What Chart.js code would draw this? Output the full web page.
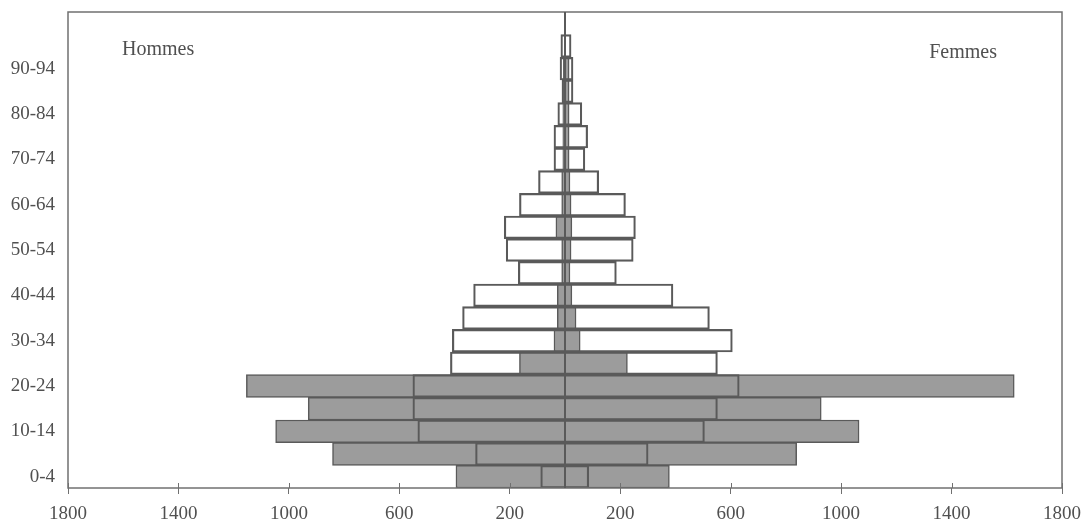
<!DOCTYPE html>
<html>
<head>
<meta charset="utf-8">
<script src="https://cdn.jsdelivr.net/npm/chart.js@4.4.0/dist/chart.umd.min.js"></script>
<style>
    body { margin: 0; background: #ffffff; }
    #wrap { width: 1085px; height: 529px; position: relative; }
</style>
</head>
<body>
<div id="wrap"><canvas id="pyramid"></canvas></div>
<script>
// age groups, bottom (0-4) to top
const ageGroups = ['0-4', '5-9', '10-14', '15-19', '20-24', '25-29', '30-34', '35-39', '40-44', '45-49',
    '50-54', '55-59', '60-64', '65-69', '70-74', '75-79', '80-84', '85-89', '90-94', '95-99', '100+'];
const ageTickLabels = ['0-4', '', '10-14', '', '20-24', '', '30-34', '', '40-44', '', '50-54', '',
    '60-64', '', '70-74', '', '80-84', '', '90-94', '', ''];
const xTickValues = [-1800, -1400, -1000, -600, -200, 200, 600, 1000, 1400, 1800];

// grey bars
const greyMen = [395, 842, 1048, 930, 1154, 165, 40, 28, 28, 12, 12, 33, 12, 12, 8, 8, 8, 8, 6, 0, null];
const greyWomen = [378, 839, 1065, 928, 1627, 226, 55, 40, 25, 18, 22, 25, 22, 18, 15, 15, 15, 15, 15, 0, null];
// outlined bars (drawn on top, no fill)
const outlineMen = [88, 324, 533, 551, 551, 415, 408, 371, 331, 169, 213, 220, 165, 96, 40, 40, 26, 11, 18, 15, null];
const outlineWomen = [86, 301, 505, 552, 631, 552, 606, 523, 391, 186, 247, 255, 219, 122, 72, 82, 61, 29, 29, 22, null];

const textColor = '#505050';
const lineColor = '#5a5a5a';
const serif = "'Liberation Serif', 'DejaVu Serif', serif";

const neg = arr => arr.map(v => (v === null ? null : -v));

const framePlugin = {
    id: 'frame',
    afterDatasetsDraw(chart) {
        const { ctx, chartArea: a, scales: { x } } = chart;
        ctx.save();
        ctx.strokeStyle = '#707070';
        ctx.lineWidth = 1.5;
        ctx.strokeRect(a.left, a.top, a.right - a.left, a.bottom - a.top);

        // ticks crossing the bottom axis
        ctx.beginPath();
        xTickValues.forEach(v => {
            const px = Math.round(x.getPixelForValue(v)) + 0.5;
            ctx.moveTo(px, a.bottom - 5);
            ctx.lineTo(px, a.bottom);
        });
        ctx.lineWidth = 1;
        ctx.stroke();

        // vertical line at zero
        const x0 = x.getPixelForValue(0);
        ctx.beginPath();
        ctx.strokeStyle = lineColor;
        ctx.lineWidth = 2;
        ctx.moveTo(x0, a.top);
        ctx.lineTo(x0, a.bottom);
        ctx.stroke();

        ctx.fillStyle = textColor;
        ctx.font = '20px ' + serif;
        ctx.textBaseline = 'middle';
        ctx.textAlign = 'left';
        ctx.fillText('Hommes', a.left + 54, a.top + 38);
        ctx.textAlign = 'right';
        ctx.fillText('Femmes', a.right - 65, a.top + 41);
        ctx.restore();
    }
};

const ctx = document.getElementById('pyramid').getContext('2d');
new Chart(ctx, {
    type: 'bar',
    data: {
        labels: ageGroups,
        datasets: [
            {
                label: 'Hommes',
                data: neg(outlineMen),
                backgroundColor: 'rgba(0,0,0,0)',
                borderColor: lineColor,
                borderWidth: 1.5,
                grouped: false,
                barPercentage: 1,
                categoryPercentage: 1
            },
            {
                label: 'Femmes',
                data: outlineWomen,
                backgroundColor: 'rgba(0,0,0,0)',
                borderColor: lineColor,
                borderWidth: 1.5,
                grouped: false,
                barPercentage: 1,
                categoryPercentage: 1
            },
            {
                label: 'Hommes (gris)',
                data: neg(greyMen),
                backgroundColor: '#9c9c9c',
                borderColor: lineColor,
                borderWidth: 1.5,
                grouped: false,
                barPercentage: 1,
                categoryPercentage: 1
            },
            {
                label: 'Femmes (gris)',
                data: greyWomen,
                backgroundColor: '#9c9c9c',
                borderColor: lineColor,
                borderWidth: 1.5,
                grouped: false,
                barPercentage: 1,
                categoryPercentage: 1
            }
        ]
    },
    options: {
        indexAxis: 'y',
        responsive: true,
        maintainAspectRatio: false,
        animation: false,
        layout: {
            padding: { top: 12, right: 23, left: 0, bottom: 0 }
        },
        plugins: {
            legend: { display: false },
            tooltip: { enabled: false }
        },
        scales: {
            x: {
                min: -1800,
                max: 1800,
                afterBuildTicks: scale => {
                    scale.ticks = xTickValues.map(v => ({ value: v }));
                },
                afterFit: scale => {
                    scale.height = 41;
                    scale.paddingLeft = 0;
                    scale.paddingRight = 0;
                },
                grid: {
                    display: true,
                    drawOnChartArea: false,
                    drawTicks: true,
                    tickLength: 6,
                    color: '#707070'
                },
                border: { display: false },
                ticks: {
                    color: textColor,
                    padding: 9,
                    maxRotation: 0,
                    font: { family: serif, size: 19 },
                    callback: value => Math.abs(value)
                }
            },
            y: {
                reverse: true,
                afterFit: scale => {
                    scale.width = 68;
                    scale.paddingTop = 0;
                    scale.paddingBottom = 0;
                },
                grid: { display: false },
                border: { display: false },
                ticks: {
                    autoSkip: false,
                    color: textColor,
                    padding: 5,
                    font: { family: serif, size: 19 },
                    callback: value => ageTickLabels[value]
                }
            }
        }
    },
    plugins: [framePlugin]
});
</script>
</body>
</html>
